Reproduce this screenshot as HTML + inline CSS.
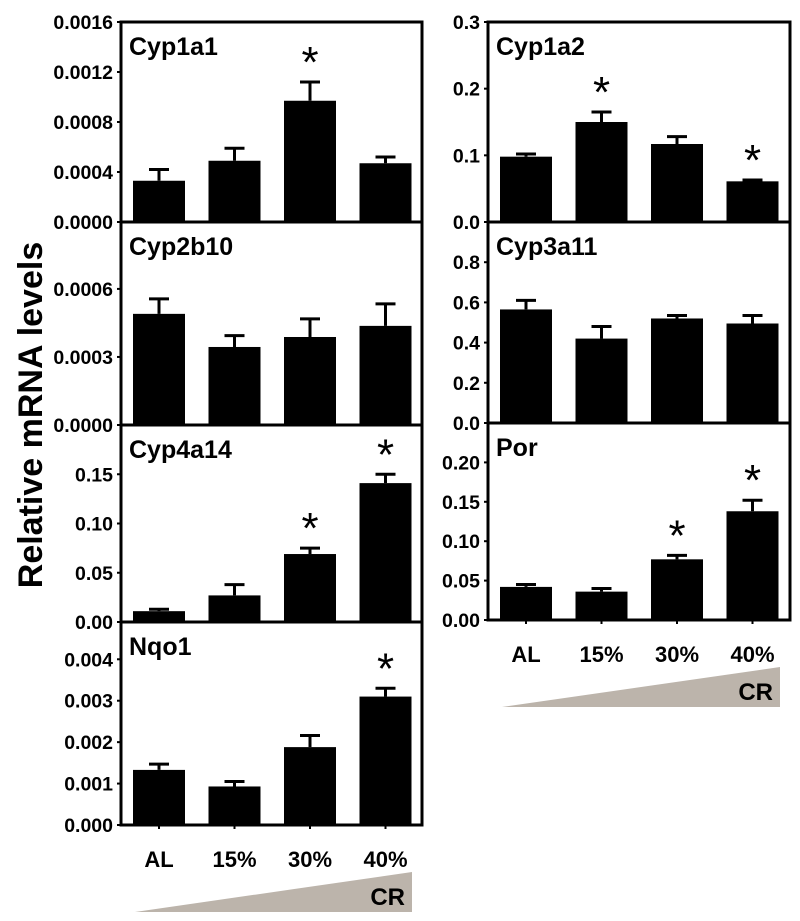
<!DOCTYPE html>
<html><head><meta charset="utf-8"><style>
html,body{margin:0;padding:0;background:#fff;}
svg{display:block;font-family:"Liberation Sans",Arial,sans-serif;font-weight:bold;}
</style></head><body>
<svg id="fig" width="800" height="921" viewBox="0 0 800 921" xmlns="http://www.w3.org/2000/svg">
<text transform="translate(42,415) rotate(-90)" text-anchor="middle" font-size="34">Relative mRNA levels</text>
</svg>
<script>
const categories = ["AL","15%","30%","40%"];
const cyp1a1Vals = [0.00033,0.00049,0.00097,0.00047];
const cyp1a1Errs = [0.00009,0.00010,0.00015,0.00005];
const cyp2b10Vals = [0.00049,0.000344,0.000388,0.000437];
const cyp2b10Errs = [0.000066,0.00005,0.00008,0.000097];
const cyp4a14Vals = [0.011,0.027,0.069,0.141];
const cyp4a14Errs = [0.002,0.011,0.006,0.009];
const nqo1Vals = [0.00133,0.00093,0.00188,0.0031];
const nqo1Errs = [0.00014,0.00012,0.00028,0.0002];
const cyp1a2Vals = [0.098,0.15,0.117,0.061];
const cyp1a2Errs = [0.004,0.015,0.011,0.002];
const cyp3a11Vals = [0.565,0.42,0.52,0.495];
const cyp3a11Errs = [0.045,0.06,0.015,0.04];
const porVals = [0.042,0.036,0.077,0.138];
const porErrs = [0.003,0.004,0.005,0.014];
const cyp1a1Ticks = ["0.0000","0.0004","0.0008","0.0012","0.0016"];
const cyp2b10Ticks = ["0.0000","0.0003","0.0006"];
const cyp4a14Ticks = ["0.00","0.05","0.10","0.15"];
const nqo1Ticks = ["0.000","0.001","0.002","0.003","0.004"];
const cyp1a2Ticks = ["0.0","0.1","0.2","0.3"];
const cyp3a11Ticks = ["0.0","0.2","0.4","0.6","0.8"];
const porTicks = ["0.00","0.05","0.10","0.15","0.20"];
const cyp1a1Sig = [false,false,true,false];
const cyp2b10Sig = [false,false,false,false];
const cyp4a14Sig = [false,false,true,true];
const nqo1Sig = [false,false,false,true];
const cyp1a2Sig = [false,true,false,true];
const cyp3a11Sig = [false,false,false,false];
const porSig = [false,false,true,true];

const svg = document.getElementById('fig');
const NS = 'http://www.w3.org/2000/svg';
function mk(tag, attrs, parent){
  const e = document.createElementNS(NS, tag);
  for (const k in attrs) e.setAttribute(k, attrs[k]);
  (parent||svg).appendChild(e);
  return e;
}
function panel(name, title, x0, x1, top, bot, ymax, vals, errs, ticks, sig, showX){
  const g = mk('g', {});
  
  
  const y = v => bot - v / ymax * (bot - top);
  const xc = i => x0 + 38 + i * 75.5;
  vals.forEach((v, i) => {
    const r = mk('rect', {x: xc(i) - 26, y: y(v), width: 52, height: bot - y(v), fill: '#000'}, g);
    
    
    const ey = y(v + errs[i]);
    const eb = mk('path', {d: `M${xc(i)} ${y(v)} V${ey} M${xc(i)-10} ${ey} H${xc(i)+10}`, stroke: '#000', 'stroke-width': 3, fill: 'none'}, g);
    
    
    if (sig[i]) {
      const s = mk('text', {x: xc(i), y: ey - 5, 'text-anchor': 'middle', 'font-size': 44, 'font-weight': 'normal'}, g);
      s.textContent = '*';
      
      
    }
  });
  const f = mk('rect', {x: x0, y: top, width: x1 - x0, height: bot - top, fill: 'none', stroke: '#000', 'stroke-width': 3}, g);
  
  
  const step = parseFloat(ticks[1]);
  ticks.forEach((t, i) => {
    const ty = y(step * i);
    mk('line', {x1: x0 - 4, x2: x0, y1: ty, y2: ty, stroke: '#000', 'stroke-width': 2}, g);
    const tl = mk('text', {x: x0 - 8, y: ty + 7, 'text-anchor': 'end', 'font-size': 19.5}, g);
    tl.textContent = t;
    
    
  });
  const tt = mk('text', {x: x0 + 8, y: top + 33, 'font-size': 25}, g);
  tt.textContent = title;
  
  
  if (showX) {
    categories.forEach((c, i) => {
      mk('line', {x1: xc(i), x2: xc(i), y1: bot, y2: bot + 4, stroke: '#000', 'stroke-width': 2}, g);
      const xl = mk('text', {x: xc(i), y: bot + 42, 'text-anchor': 'middle', 'font-size': 22}, g);
      xl.textContent = c;
      
      
    });
    const tri = mk('path', {d: `M${x0+14} ${bot+87} L${x1-10} ${bot+47} V${bot+87} Z`, fill: '#bcb4ab', 'stroke-linejoin': 'round'}, g);
    
    
    const cr = mk('text', {x: x1 - 17, y: bot + 80, 'text-anchor': 'end', 'font-size': 24}, g);
    cr.textContent = 'CR';
    
    
  }
}
panel('cyp1a1', 'Cyp1a1', 121, 422, 22, 222, 0.0016, cyp1a1Vals, cyp1a1Errs, cyp1a1Ticks, cyp1a1Sig, false);
panel('cyp2b10', 'Cyp2b10', 121, 422, 222, 425, 0.000895, cyp2b10Vals, cyp2b10Errs, cyp2b10Ticks, cyp2b10Sig, false);
panel('cyp4a14', 'Cyp4a14', 121, 422, 425, 622, 0.2, cyp4a14Vals, cyp4a14Errs, cyp4a14Ticks, cyp4a14Sig, false);
panel('nqo1', 'Nqo1', 121, 422, 622, 825, 0.0049, nqo1Vals, nqo1Errs, nqo1Ticks, nqo1Sig, true);
panel('cyp1a2', 'Cyp1a2', 488, 790, 22, 222, 0.3, cyp1a2Vals, cyp1a2Errs, cyp1a2Ticks, cyp1a2Sig, false);
panel('cyp3a11', 'Cyp3a11', 488, 790, 222, 423, 1.0, cyp3a11Vals, cyp3a11Errs, cyp3a11Ticks, cyp3a11Sig, false);
panel('por', 'Por', 488, 790, 423, 620, 0.25, porVals, porErrs, porTicks, porSig, true);
</script>
</body></html>
